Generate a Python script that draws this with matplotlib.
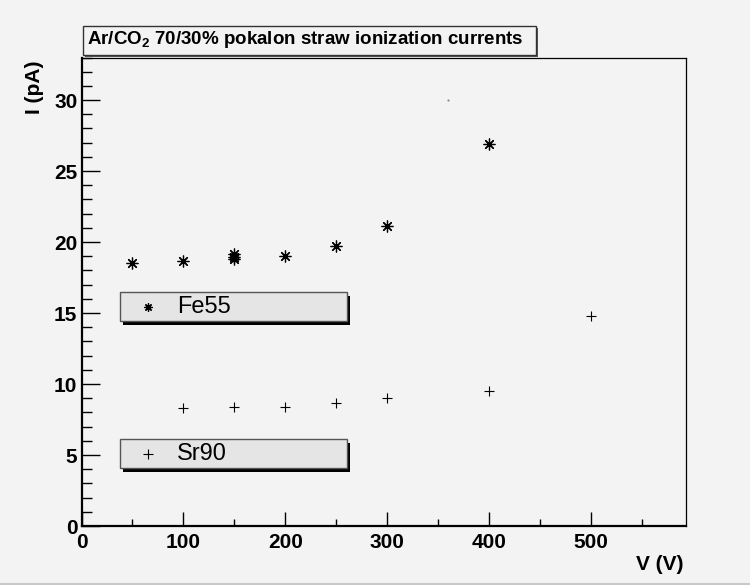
import matplotlib
matplotlib.use("Agg")
import matplotlib.pyplot as plt
from matplotlib.patches import Rectangle
from matplotlib.lines import Line2D
from matplotlib.ticker import MultipleLocator

plt.rcParams['font.family'] = ['Liberation Sans', 'DejaVu Sans']
plt.rcParams['mathtext.fontset'] = 'custom'
plt.rcParams['mathtext.rm'] = 'Liberation Sans'
plt.rcParams['mathtext.bf'] = 'Liberation Sans:bold'

# Fe55 source: ionization current vs. applied voltage
volt_fe55 = [50, 100, 150, 150, 150, 200, 250, 300, 400]
curr_fe55 = [18.55, 18.7, 19.15, 18.95, 18.8, 19.0, 19.7, 21.1, 26.9]

# Sr90 source
volt_sr90 = [100, 150, 200, 250, 300, 400, 500]
curr_sr90 = [8.3, 8.4, 8.35, 8.65, 9.05, 9.5, 14.8]

# single stray point drawn as a dot
volt_dot = [360]
curr_dot = [30.0]

W, H = 750, 585
BG = '#f3f3f3'

fig = plt.figure(figsize=(W / 100, H / 100), dpi=100, facecolor=BG)


def fx(x):
    return x / W


def fy(y):
    return 1 - y / H


ax = fig.add_axes([fx(81.5), fy(526), fx(686.3) - fx(81.5), fy(57.5) - fy(526)])
ax.set_facecolor(BG)
ax.set_xlim(0, 593.5)
ax.set_ylim(0, 33.0)

ax.plot(volt_fe55, curr_fe55, ls='none', marker=(8, 2, 0), ms=8.5, mew=0.9,
        color='black')
ax.plot(volt_sr90, curr_sr90, ls='none', marker='+', ms=7, mew=0.8,
        color='black')
ax.plot(volt_dot, curr_dot, ls='none', marker='.', ms=1, color='#777777')

ax.xaxis.set_major_locator(MultipleLocator(100))
ax.xaxis.set_minor_locator(MultipleLocator(50))
ax.yaxis.set_major_locator(MultipleLocator(5))
ax.yaxis.set_minor_locator(MultipleLocator(1))
ax.tick_params(which='both', direction='in', width=1, top=False, right=False)
ax.tick_params(axis='x', which='major', length=10, pad=5, labelsize=15)
ax.tick_params(axis='x', which='minor', length=5)
ax.tick_params(axis='y', which='major', length=13, pad=3, labelsize=15)
ax.tick_params(axis='y', which='minor', length=7)
for lab in ax.get_xticklabels() + ax.get_yticklabels():
    lab.set_fontweight('bold')

ax.spines['left'].set_linewidth(1.6)
ax.spines['bottom'].set_linewidth(1.6)
ax.spines['top'].set_linewidth(0.9)
ax.spines['right'].set_linewidth(0.9)

# axis titles
fig.text(fx(684), fy(565), 'V (V)', ha='right', va='center',
         fontsize=15, fontweight='bold')
fig.text(fx(35), fy(60), 'I (pA)', ha='center', va='top', rotation=90,
         fontsize=15, fontweight='bold')

# title box with a thin shadow
fig.add_artist(Rectangle((fx(84.5), fy(57)), fx(453.6), fy(0) - fy(29.3),
                         transform=fig.transFigure, facecolor='#555555',
                         edgecolor='none'))
fig.add_artist(Rectangle((fx(82.7), fy(55)), fx(453.6), fy(0) - fy(29.3),
                         transform=fig.transFigure, facecolor=BG,
                         edgecolor='#333333', lw=1))
fig.text(fx(87), fy(40), r'Ar/CO$_\mathbf{2}$ 70/30% pokalon straw ionization currents',
         ha='left', va='center', fontsize=13.5, fontweight='bold')


def legend_box(top, label, marker, ms, mew):
    left, right, bottom = 119.5, 346.5, top + 29
    fig.add_artist(Rectangle((fx(left + 4), fy(bottom + 4)), fx(right - left),
                             fy(0) - fy(bottom - top),
                             transform=fig.transFigure, facecolor='black',
                             edgecolor='none'))
    fig.add_artist(Rectangle((fx(left), fy(bottom)), fx(right - left),
                             fy(0) - fy(bottom - top),
                             transform=fig.transFigure, facecolor='#e5e5e5',
                             edgecolor='#555555', lw=1))
    cy = (top + bottom) / 2
    fig.add_artist(Line2D([fx(148.3)], [fy(cy)], transform=fig.transFigure,
                          ls='none', marker=marker, ms=ms, mew=mew,
                          color='black'))
    fig.text(fx(177), fy(cy), label, ha='left', va='center', fontsize=17)


legend_box(292.3, 'Fe55', (8, 2, 0), 6, 0.9)
legend_box(439, 'Sr90', '+', 7, 0.8)

# canvas border line at the bottom
fig.add_artist(Line2D([0, 1], [fy(583.5), fy(583.5)], transform=fig.transFigure,
                      color='#c8c8c8', lw=1.5))

fig.savefig('out.png', dpi=100, facecolor=BG)
